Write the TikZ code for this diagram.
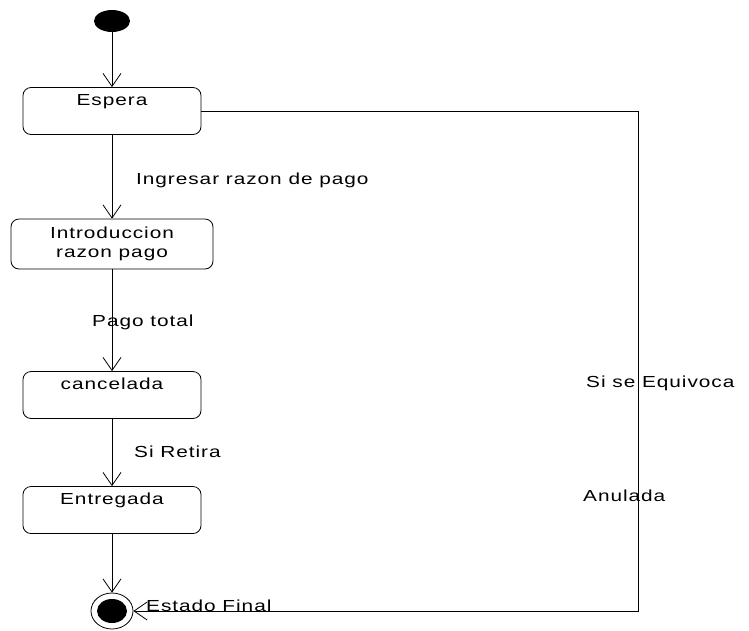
\documentclass[tikz,border=0pt]{standalone}
\usepackage{fontspec}
\setmainfont{Liberation Sans}[FakeStretch=1.3,LetterSpace=6]
\usetikzlibrary{arrows.meta,shapes.geometric}
\begin{document}
\begin{tikzpicture}[x=1pt,y=-1pt,
  txt/.style={font=\fontsize{16}{19}\selectfont, inner sep=0pt},
  statebox/.style={draw, rounded corners=8pt, line width=0.8pt,
    minimum width=178pt, minimum height=47pt, inner sep=0pt},
  statelabel/.style={txt, anchor=north, yshift=-7pt},
  flow/.style={line width=0.8pt, -{Straight Barb[length=13pt,width=18pt,line width=0.8pt]}}
]
\useasboundingbox (0,0) rectangle (749,630);

% initial and final pseudo-states
\node[ellipse, fill=black, minimum width=36pt, minimum height=22pt, inner sep=0pt] (start) at (112,21) {};
\node[ellipse, draw, line width=0.8pt, minimum width=42pt, minimum height=36pt, inner sep=0pt] (final) at (112,611) {};
\fill (final.center) ellipse (15 and 12);

% states
\node[statebox, label={[statelabel]north:Espera}] (espera) at (112,111) {};
\node[statebox, minimum width=202pt, minimum height=50pt, txt, align=center, draw, rounded corners=8pt, line width=0.8pt] (intro) at (112,244) {Introduccion\\razon pago};
\node[statebox, label={[statelabel]north:cancelada}] (cancelada) at (112,395) {};
\node[statebox, label={[statelabel]north:Entregada}] (entregada) at (112,510) {};

% corner points of the cancel path
\coordinate (c1) at (638,111);
\coordinate (c2) at (638,611);

% transitions
\draw[flow] (start) -- (espera);
\draw[flow] (espera) -- (intro);
\draw[flow] (intro) -- (cancelada);
\draw[flow] (cancelada) -- (entregada);
\draw[flow] (entregada) -- (final);
\draw[flow] (espera.east) -- (c1) -- (c2) -- (final);

% transition labels
\node[txt, anchor=west] (l1) at (136,180) {Ingresar razon de pago};
\node[txt, anchor=west] (l2) at (92,322) {Pago total};
\node[txt, anchor=west] (l3) at (134,452) {Si Retira};
\node[txt, anchor=west] (l4) at (586,383) {Si se Equivoca};
\node[txt, anchor=west] (l5) at (583,496) {Anulada};
\node[txt, anchor=west] (l6) at (146,606) {Estado Final};
\end{tikzpicture}
\end{document}
